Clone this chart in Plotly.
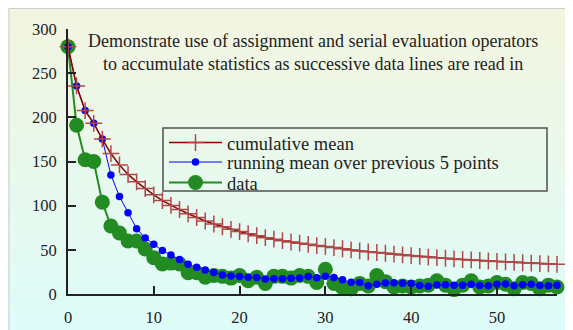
import plotly.graph_objects as go

# ---- data ----
x_index = list(range(58))
data_values = [280, 191, 152, 150, 104, 77, 69, 60, 60, 51,
               41, 34, 35, 34, 24, 24, 19, 21, 20, 18,
               21, 15, 19, 12, 20, 20, 18, 21, 20, 13,
               28, 12, 7, 6, 12, 9, 21, 14, 8, 9,
               8, 9, 10, 15, 10, 5, 10, 15, 8, 9,
               13, 11, 6, 13, 12, 6, 10, 8]
running_mean5 = [280, 235.5, 207.67, 193.25, 175.4, 134.8, 110.4, 92, 74, 63.4,
                 56.2, 49.2, 44.2, 39, 33.6, 30.2, 27.2, 24.4, 21.6, 20.4,
                 19.8, 19, 18.6, 17, 17.4, 17.2, 17.8, 18.2, 19.8, 18.4,
                 20, 18.8, 16, 13.2, 13, 9.2, 11, 12.4, 12.8, 12.2,
                 12, 9.6, 8.8, 10.2, 10.4, 9.8, 10, 11, 9.6, 9.4,
                 11, 11.2, 9.4, 10.4, 11, 9.6, 9.4, 9.8]
cumulative_mean = [280, 235.5, 207.67, 193.25, 175.4, 159.0, 146.14, 135.38, 127.0, 119.4,
                   112.27, 105.75, 100.31, 95.57, 90.8, 86.63, 82.65, 79.22, 76.11, 73.2,
                   70.71, 68.18, 66.04, 63.79, 62.04, 60.42, 58.85, 57.5, 56.21, 54.77,
                   53.9, 52.59, 51.21, 49.88, 48.8, 47.69, 46.97, 46.11, 45.13, 44.23,
                   43.34, 42.52, 41.77, 41.16, 40.47, 39.7, 39.06, 38.56, 37.94, 37.36,
                   36.88, 36.38, 35.81, 35.39, 34.96, 34.45, 34.02, 33.57]
x_ticks = [0, 10, 20, 30, 40, 50]
y_ticks = [0, 50, 100, 150, 200, 250, 300]

title_lines = ["Demonstrate use of assignment and serial evaluation operators",
               "to accumulate statistics as successive data lines are read in"]

# page has an 8px body margin; figure drawn inside it
OFF = 8
W, H = 565, 322
L, R, T, B = 60, 16, 21, 36
pw, ph = W - L - R, H - T - B

def fx(sx):
    """screen x -> paper x"""
    return (sx - OFF - L) / pw

def fy(sy):
    """screen y -> paper y"""
    return (H - B - (sy - OFF)) / ph

FONT = "Liberation Serif"
TXT = "#222222"

fig = go.Figure()
fig.add_trace(go.Scatter(
    x=x_index, y=data_values, mode="lines+markers", name="data",
    line=dict(color="#228b22", width=2),
    marker=dict(symbol="circle", size=15, color="#228b22"),
    cliponaxis=False, legend="legend3"))
fig.add_trace(go.Scatter(
    x=x_index, y=running_mean5, mode="lines+markers",
    name="running mean over previous 5 points",
    line=dict(color="#0000ff", width=1),
    marker=dict(symbol="circle", size=7.5, color="#0000ff"),
    cliponaxis=False, legend="legend2"))
fig.add_trace(go.Scatter(
    x=x_index, y=cumulative_mean, mode="lines+markers", name="cumulative mean",
    line=dict(color="#8b0000", width=1.5),
    marker=dict(symbol="cross-thin", size=12, color="#b04848",
                line=dict(color="#b04848", width=1.5)),
    cliponaxis=False, legend="legend"))

# background gradient (pale yellow at top -> pale cyan at bottom)
shapes = []
top_c = (243, 245, 224)
bot_c = (222, 252, 249)
n = 60
y_top, y_bot = 8, 332
for k in range(n):
    t = k / (n - 1)
    c = tuple(round(top_c[j] + (bot_c[j] - top_c[j]) * t) for j in range(3))
    ya = y_top + (y_bot - y_top) * k / n
    yb = y_top + (y_bot - y_top) * (k + 1) / n + 0.6
    shapes.append(dict(type="rect", xref="paper", yref="paper", layer="below",
                       x0=fx(8), x1=fx(575), y0=fy(yb), y1=fy(ya),
                       line=dict(width=0), fillcolor="rgb(%d,%d,%d)" % c))
shapes.append(dict(type="rect", xref="paper", yref="paper", layer="below",
                   x0=fx(9), x1=fx(590), y0=fy(345), y1=fy(8.5),
                   line=dict(color="#cccccc", width=1), fillcolor="rgba(0,0,0,0)"))
# legend frame
shapes.append(dict(type="rect", xref="paper", yref="paper", layer="above",
                   x0=fx(163), x1=fx(547), y0=fy(191), y1=fy(128),
                   line=dict(color="#505050", width=1.5), fillcolor="rgba(0,0,0,0)"))

leg_common = dict(xanchor="left", yanchor="middle", bgcolor="rgba(0,0,0,0)",
                  borderwidth=0, font=dict(family=FONT, size=18.5, color=TXT),
                  itemwidth=53)
annotations = [dict(text="<br>".join(title_lines), xref="paper", yref="paper",
                    x=fx(312.5), y=fy(52.5), xanchor="center", yanchor="middle",
                    showarrow=False, align="center", borderpad=0,
                    font=dict(family=FONT, size=18, color=TXT))]

fig.update_layout(
    width=W, height=H,
    margin=dict(l=L, r=R, t=T, b=B, pad=0, autoexpand=False),
    paper_bgcolor="white", plot_bgcolor="rgba(0,0,0,0)",
    shapes=shapes,
    showlegend=True,
    legend=dict(x=fx(164), y=fy(143), **leg_common),
    legend2=dict(x=fx(164), y=fy(162.5), **leg_common),
    legend3=dict(x=fx(164), y=fy(183), **leg_common),
    annotations=annotations,
    font=dict(family=FONT, size=16, color=TXT),
)
fig.update_xaxes(range=[0, 57], tickvals=x_ticks, ticks="inside", ticklen=8,
                 tickwidth=1.5, tickcolor="#222", showline=True, linecolor="#222",
                 linewidth=2, showgrid=False, zeroline=False, mirror=False,
                 automargin=False,
                 tickfont=dict(family=FONT, size=16.5, color=TXT), ticklabelstandoff=7)
fig.update_yaxes(range=[0, 300], tickvals=y_ticks, ticks="inside", ticklen=8,
                 tickwidth=1.5, tickcolor="#222", showline=True, linecolor="#222",
                 linewidth=2, showgrid=False, zeroline=False, mirror=False,
                 automargin=False,
                 tickfont=dict(family=FONT, size=16.5, color=TXT), ticklabelstandoff=6)

fig.write_html("out.html")
